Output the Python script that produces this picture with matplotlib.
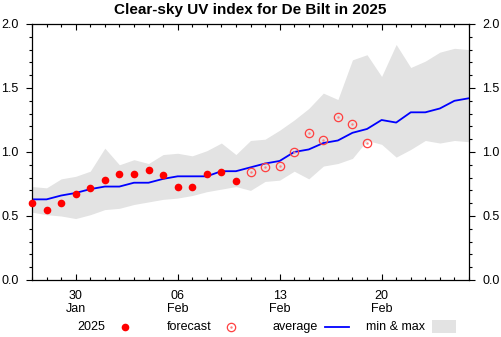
import matplotlib
matplotlib.use('Agg')
import matplotlib.pyplot as plt
import matplotlib.dates as mdates
from matplotlib.lines import Line2D
from matplotlib.patches import Rectangle
import pandas as pd

# Daily values, 27 Jan .. 26 Feb 2025
start_date = '2025-01-27'
n_days = 31

uv_2025 = [0.60, 0.55, 0.60, 0.67, 0.72, 0.78, 0.83, 0.83, 0.86, 0.82,
           0.73, 0.73, 0.83, 0.84, 0.77]
uv_forecast = [0.84, 0.88, 0.89, 1.00, 1.15, 1.09, 1.27, 1.22, 1.07]
uv_average = [0.63, 0.63, 0.66, 0.68, 0.71, 0.73, 0.73, 0.76, 0.76, 0.79,
              0.81, 0.81, 0.81, 0.85, 0.85, 0.88, 0.91, 0.93, 1.00, 1.02,
              1.07, 1.09, 1.15, 1.18, 1.25, 1.23, 1.31, 1.31, 1.34, 1.40,
              1.42]
uv_min = [0.53, 0.51, 0.50, 0.48, 0.51, 0.55, 0.56, 0.59, 0.61, 0.63,
          0.64, 0.66, 0.69, 0.71, 0.73, 0.70, 0.77, 0.78, 0.85, 0.79,
          0.89, 0.91, 0.95, 1.09, 1.06, 0.96, 1.02, 1.09, 1.07, 1.09,
          1.08]
uv_max = [0.73, 0.72, 0.79, 0.81, 0.85, 1.03, 0.90, 0.94, 0.91, 0.98,
          0.99, 0.97, 1.01, 1.07, 0.98, 1.09, 1.10, 1.17, 1.25, 1.34,
          1.46, 1.41, 1.72, 1.76, 1.59, 1.84, 1.66, 1.71, 1.78, 1.81,
          1.80]

dates = pd.date_range(start_date, periods=n_days)
obs_dates = dates[:len(uv_2025)]
fc_dates = dates[len(uv_2025):len(uv_2025) + len(uv_forecast)]

plt.rcParams['font.family'] = ['Liberation Sans', 'DejaVu Sans']
plt.rcParams['font.size'] = 9

fig = plt.figure(figsize=(5.01, 3.37), dpi=100)
ax = fig.add_axes([32 / 501, 57 / 337, 437 / 501, 256 / 337])

band_color = '#e3e3e3'
ax.fill_between(dates, uv_min, uv_max, color=band_color, linewidth=0)
ax.plot(dates, uv_average, color='#0000ff', linewidth=1.3)
ax.plot(obs_dates, uv_2025, 'o', color='#ff0000', markersize=5.5,
        markeredgewidth=0, clip_on=False, zorder=5)
ax.plot(fc_dates, uv_forecast, 'o', markerfacecolor='none',
        markeredgecolor='#ff4040', markersize=6, markeredgewidth=0.9,
        zorder=5)
ax.plot(fc_dates, uv_forecast, '.', color='#ff8080', markersize=1.5,
        zorder=5)

ax.set_xlim(dates[0], dates[-1])
ax.set_ylim(0, 2.0)
ax.set_yticks([0.0, 0.5, 1.0, 1.5, 2.0])
ax.set_yticks([i / 10 for i in range(21)], minor=True)
ax.yaxis.set_major_formatter(matplotlib.ticker.FormatStrFormatter('%.1f'))

ax.xaxis.set_major_locator(mdates.DayLocator(bymonthday=[6, 13, 20, 30]))
ax.xaxis.set_minor_locator(mdates.DayLocator())
ax.xaxis.set_major_formatter(mdates.DateFormatter('%d\n%b'))

ax.tick_params(axis='y', which='both', direction='out', left=True,
               right=True, labelleft=True, labelright=True, pad=5)
ax.tick_params(axis='y', which='major', length=4.5, width=0.8)
ax.tick_params(axis='y', which='minor', length=2.5, width=0.8)
ax.tick_params(axis='x', which='both', direction='in', top=True,
               bottom=True, pad=7)
ax.tick_params(axis='x', which='major', length=4.5, width=0.8)
ax.tick_params(axis='x', which='minor', length=2.5, width=0.8)
for label in ax.get_xticklabels():
    label.set_linespacing(1.1)
for spine in ax.spines.values():
    spine.set_linewidth(0.9)

ax.set_title('Clear-sky UV index for De Bilt in 2025', fontsize=11,
             fontweight='bold', pad=7)

# Legend row under the axis
ly = 10 / 337
fig.text(105 / 501, ly, '2025', ha='right', va='center')
fig.add_artist(Line2D([125 / 501], [ly], marker='o', color='#ff0000',
                      markersize=5.5, markeredgewidth=0,
                      transform=fig.transFigure))
fig.text(212 / 501, ly, 'forecast', ha='right', va='center')
fig.add_artist(Line2D([231 / 501], [ly], marker='o', markerfacecolor='none',
                      markeredgecolor='#ff4040', markersize=6,
                      markeredgewidth=0.9, transform=fig.transFigure))
fig.add_artist(Line2D([231 / 501], [ly], marker='.', color='#ff8080',
                      markersize=1.5, transform=fig.transFigure))
fig.text(318 / 501, ly, 'average', ha='right', va='center')
fig.add_artist(Line2D([325 / 501, 349 / 501], [ly, ly], color='#0000ff',
                      linewidth=1.3, transform=fig.transFigure))
fig.text(425 / 501, ly, 'min & max', ha='right', va='center')
fig.add_artist(Rectangle((432 / 501, 4 / 337), 24 / 501, 13 / 337,
                         color=band_color, linewidth=0,
                         transform=fig.transFigure))

fig.savefig('out.png', dpi=100)
